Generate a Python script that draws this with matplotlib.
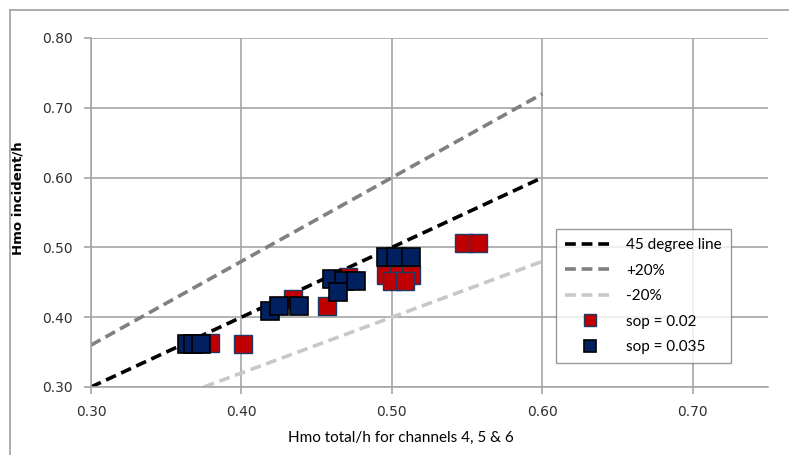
import matplotlib.pyplot as plt
from matplotlib.lines import Line2D
import numpy as np

# sop = 0.02 runs
red_x = [0.379, 0.401, 0.434, 0.457, 0.471, 0.496, 0.505, 0.513, 0.500, 0.509, 0.548, 0.557]
red_y = [0.363, 0.362, 0.426, 0.416, 0.458, 0.460, 0.460, 0.460, 0.452, 0.452, 0.506, 0.506]

# sop = 0.035 runs
blue_x = [0.364, 0.368, 0.373, 0.419, 0.425, 0.438, 0.460, 0.468, 0.476, 0.464, 0.496, 0.503, 0.513]
blue_y = [0.361, 0.361, 0.361, 0.409, 0.416, 0.416, 0.455, 0.452, 0.452, 0.436, 0.486, 0.486, 0.486]

# reference lines
line_x = [0.30, 0.60]
minus_x = [0.375, 0.60]

fig = plt.figure(figsize=(7.89, 4.55), dpi=100)
ax = fig.add_axes([91/789, 1 - 387/455, (768 - 91)/789, (387 - 38)/455])

grid_col = '#a6a6a6'
ax.plot(line_x, line_x, ls=(0, (3, 1.6)), color='black', lw=2.6, label='45 degree line')
ax.plot(line_x, [1.2*v for v in line_x], ls=(0, (3, 1.6)), color='#808080', lw=2.6, label='+20%')
ax.plot(minus_x, [0.8*v for v in minus_x], ls=(0, (3, 1.6)), color='#c8c8c8', lw=2.6, label='-20%')

ax.plot(red_x, red_y, ls='none', marker='s', ms=12.5, mfc='#c00000', mec='#1f3864',
        mew=1.0, label='sop = 0.02')
ax.plot(blue_x, blue_y, ls='none', marker='s', ms=12.5, mfc='#002060', mec='black',
        mew=1.2, label='sop = 0.035')

ax.set_xlim(0.30, 0.75)
ax.set_ylim(0.30, 0.80)
ax.set_xticks(np.arange(0.30, 0.71, 0.10))
ax.set_yticks(np.arange(0.30, 0.81, 0.10))
ax.set_xticklabels(['%.2f' % v for v in np.arange(0.30, 0.71, 0.10)])
ax.set_yticklabels(['%.2f' % v for v in np.arange(0.30, 0.81, 0.10)])
ax.grid(True, color=grid_col, lw=1.2)
ax.set_axisbelow(True)
for s in ['top', 'right']:
    ax.spines[s].set_visible(False)
for s in ['left', 'bottom']:
    ax.spines[s].set_color(grid_col)
    ax.spines[s].set_linewidth(1.2)
ax.tick_params(axis='both', color=grid_col, length=5, width=1.2, labelsize=10,
               labelcolor='#303030')
ax.tick_params(axis='x', pad=8)
ax.tick_params(axis='y', pad=8)

ax.set_xlabel('Hmo total/h for channels 4, 5 & 6', fontsize=11, family='Lato',
              color='black')
ax.xaxis.set_label_coords((401 - 91)/677, -0.125)
ax.set_ylabel('Hmo incident/h', fontsize=9.5, fontweight='bold', color='black')
ax.yaxis.set_label_coords(-0.098, (387 - 198)/349)

leg = ax.legend(loc='upper left', bbox_to_anchor=((556 - 91)/677, (387 - 229)/349),
                frameon=True, fancybox=False, edgecolor='#808080',
                prop={'family': 'Lato', 'size': 11}, handlelength=3.2,
                labelspacing=0.75, borderpad=0.6, borderaxespad=0)
leg.get_frame().set_linewidth(1.0)
for h in leg.legend_handles[3:]:
    h.set_markersize(9)

# chart area frame edges
fig.add_artist(Line2D([10/789, 1], [1 - 10/455, 1 - 10/455], color='#a0a0a0', lw=1.2))
fig.add_artist(Line2D([10/789, 10/789], [0, 1 - 10/455], color='#a0a0a0', lw=1.2))

fig.savefig('out.png', dpi=100)
